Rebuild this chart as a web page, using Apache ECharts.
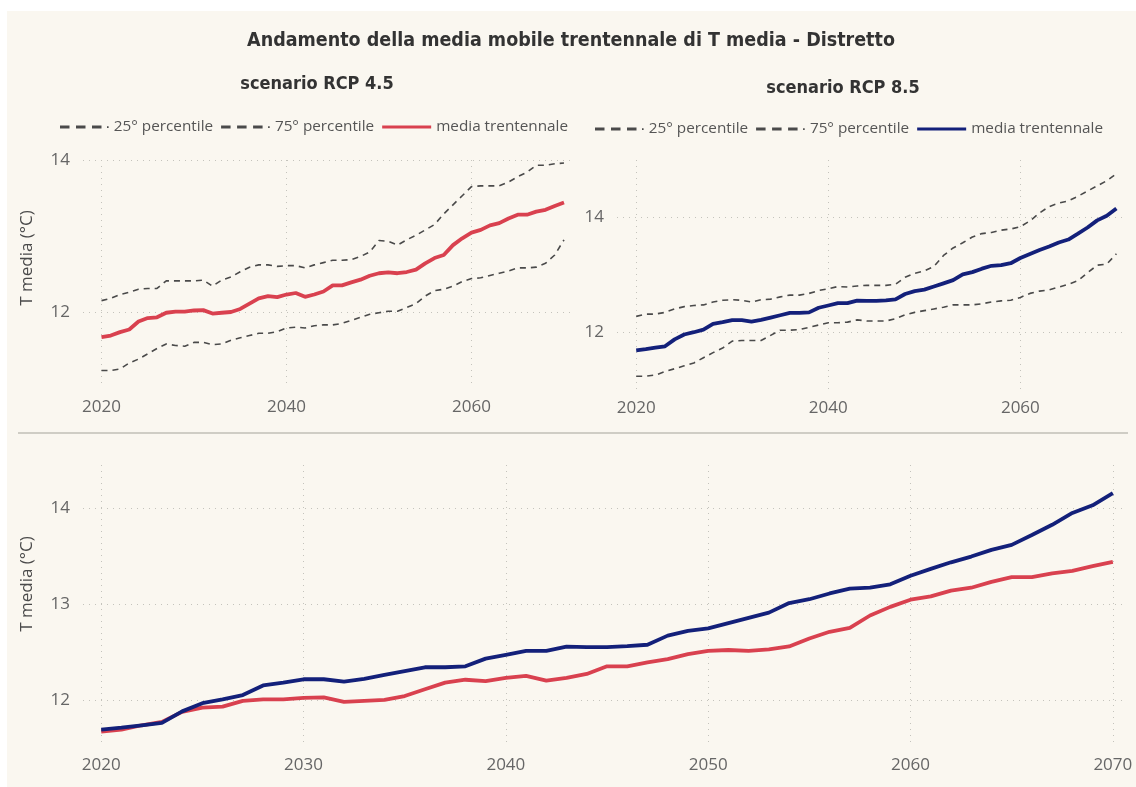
<!DOCTYPE html>
<html>
<head>
<meta charset="utf-8">
<script src="https://cdn.jsdelivr.net/npm/echarts@6/dist/echarts.min.js"></script>
<style>
  html, body { margin: 0; padding: 0; background: #ffffff; }
  #chart { width: 1136px; height: 787px; }
</style>
</head>
<body>
<div id="chart"></div>
<script>
// Years of the 30-year moving average
const years = [2020, 2021, 2022, 2023, 2024, 2025, 2026, 2027, 2028, 2029,
               2030, 2031, 2032, 2033, 2034, 2035, 2036, 2037, 2038, 2039,
               2040, 2041, 2042, 2043, 2044, 2045, 2046, 2047, 2048, 2049,
               2050, 2051, 2052, 2053, 2054, 2055, 2056, 2057, 2058, 2059,
               2060, 2061, 2062, 2063, 2064, 2065, 2066, 2067, 2068, 2069, 2070];

// Scenario RCP 4.5 (°C)
const rcp45Mean = [11.67, 11.69, 11.735, 11.77, 11.875, 11.92, 11.93, 11.99, 12.005, 12.005,
                   12.02, 12.025, 11.98, 11.99, 12.0, 12.04, 12.11, 12.18, 12.21, 12.195,
                   12.23, 12.25, 12.2, 12.23, 12.27, 12.35, 12.35, 12.39, 12.425, 12.477,
                   12.51, 12.52, 12.51, 12.526, 12.557, 12.64, 12.71, 12.75, 12.88, 12.97,
                   13.045, 13.08, 13.14, 13.17, 13.23, 13.28, 13.28, 13.32, 13.345, 13.395, 13.44];
const rcp45P25 = [11.23, 11.23, 11.25, 11.33, 11.38, 11.45, 11.52, 11.58, 11.56, 11.55,
                  11.6, 11.6, 11.57, 11.58, 11.63, 11.66, 11.69, 11.72, 11.72, 11.74,
                  11.79, 11.8, 11.79, 11.82, 11.83, 11.83, 11.85, 11.89, 11.93, 11.97,
                  11.99, 12.01, 12.01, 12.06, 12.11, 12.21, 12.28, 12.3, 12.34, 12.4,
                  12.44, 12.45, 12.48, 12.51, 12.54, 12.58, 12.58, 12.59, 12.64, 12.75, 12.95];
const rcp45P75 = [12.15, 12.18, 12.23, 12.26, 12.3, 12.31, 12.31, 12.41, 12.41, 12.41,
                  12.41, 12.42, 12.34, 12.42, 12.46, 12.53, 12.59, 12.62, 12.62, 12.6,
                  12.61, 12.61, 12.58, 12.62, 12.65, 12.68, 12.68, 12.69, 12.73, 12.79,
                  12.94, 12.93, 12.88, 12.95, 13.01, 13.08, 13.15, 13.29, 13.41, 13.53,
                  13.65, 13.66, 13.66, 13.66, 13.71, 13.78, 13.84, 13.93, 13.93, 13.95, 13.96];

// Scenario RCP 8.5 (°C)
const rcp85Mean = [11.69, 11.71, 11.735, 11.76, 11.88, 11.965, 12.005, 12.05, 12.15, 12.18,
                   12.215, 12.215, 12.19, 12.22, 12.26, 12.3, 12.34, 12.34, 12.35, 12.43,
                   12.47, 12.51, 12.51, 12.555, 12.55, 12.55, 12.56, 12.575, 12.67, 12.72,
                   12.745, 12.8, 12.855, 12.91, 13.01, 13.05, 13.11, 13.16, 13.17, 13.205,
                   13.295, 13.366, 13.435, 13.495, 13.565, 13.617, 13.72, 13.826, 13.95, 14.03, 14.157];
const rcp85P25 = [11.24, 11.24, 11.26, 11.32, 11.37, 11.42, 11.47, 11.56, 11.65, 11.73,
                  11.85, 11.86, 11.86, 11.86, 11.95, 12.04, 12.04, 12.05, 12.09, 12.13,
                  12.17, 12.17, 12.18, 12.22, 12.2, 12.2, 12.2, 12.24, 12.31, 12.35,
                  12.38, 12.41, 12.44, 12.48, 12.48, 12.48, 12.5, 12.53, 12.55, 12.56,
                  12.61, 12.68, 12.72, 12.74, 12.79, 12.84, 12.9, 13.04, 13.17, 13.19, 13.37];
const rcp85P75 = [12.28, 12.32, 12.32, 12.35, 12.41, 12.45, 12.47, 12.48, 12.53, 12.56,
                  12.57, 12.56, 12.53, 12.57, 12.58, 12.62, 12.65, 12.65, 12.68, 12.73,
                  12.76, 12.8, 12.79, 12.81, 12.82, 12.82, 12.82, 12.84, 12.96, 13.03,
                  13.07, 13.15, 13.34, 13.47, 13.56, 13.66, 13.72, 13.74, 13.78, 13.8,
                  13.84, 13.94, 14.08, 14.19, 14.25, 14.29, 14.37, 14.46, 14.55, 14.64, 14.76];

// Tick labels
const xTicksTop = [2020, 2040, 2060];
const xTicksBottom = [2020, 2030, 2040, 2050, 2060, 2070];
const yTicksTop = [12, 14];
const yTicksBottom = [12, 13, 14];

const RED = '#d9414f';
const NAVY = '#13207a';
const DASH = '#4a4a4a';
const GRID_COLOR = '#c4c3bc';
const LABEL_COLOR = '#666666';
const UI_FONT = '"Open Sans", "Noto Sans", sans-serif';
const TITLE_FONT = '"DejaVu Sans Condensed", "DejaVu Sans", sans-serif';

const pairs = arr => years.map((y, i) => [y, arr[i]]);

function xAxisDef(gridIndex, min, max, ticks, margin) {
  return {
    type: 'value', gridIndex, min, max,
    axisLine: { show: false },
    axisTick: { show: false, customValues: ticks },
    axisLabel: {
      customValues: ticks, margin,
      color: LABEL_COLOR, fontFamily: UI_FONT, fontSize: 17,
      formatter: v => String(v)
    },
    splitLine: { show: true, lineStyle: { color: GRID_COLOR, type: [1, 5], width: 1 } }
  };
}

// nameShift moves the rotated axis title upward along the axis
function yAxisDef(gridIndex, min, max, ticks, name, nameShift) {
  return {
    type: 'value', gridIndex, min, max,
    name: name || '', nameLocation: 'middle', nameGap: 47, nameRotate: 90,
    nameTextStyle: {
      color: '#4a4a4a', fontFamily: UI_FONT, fontSize: 17,
      padding: [0, 0, 0, 2 * (nameShift || 0)]
    },
    axisLine: { show: false },
    axisTick: { show: false, customValues: ticks },
    axisLabel: {
      customValues: ticks, margin: 13,
      color: LABEL_COLOR, fontFamily: UI_FONT, fontSize: 17,
      formatter: v => String(v)
    },
    splitLine: { show: true, lineStyle: { color: GRID_COLOR, type: [1, 5], width: 1 } }
  };
}

function dashed(name, data, xi) {
  return {
    name, type: 'line', xAxisIndex: xi, yAxisIndex: xi, data: pairs(data),
    showSymbol: false, symbol: 'none', z: 2,
    lineStyle: { color: DASH, width: 1.6, type: [6, 5] },
    itemStyle: { color: DASH }
  };
}

function solid(name, data, xi, color) {
  return {
    name, type: 'line', xAxisIndex: xi, yAxisIndex: xi, data: pairs(data),
    showSymbol: false, symbol: 'none', z: 3,
    lineStyle: { color, width: 3.8 },
    itemStyle: { color }
  };
}

// Legend icons: three dashes plus a small dot, or a solid bar
const dashIcon = 'path://M0 0H9.5V3H0Z M16 0H25.5V3H16Z M32 0H41.5V3H32Z M47 0.8H48.6V2.4H47Z';
const barIcon = 'path://M0 0H49V3H0Z';

function legendDef(left, top, meanColor) {
  return {
    left, top, orient: 'horizontal', padding: 0,
    itemWidth: 49, itemHeight: 3, itemGap: 8,
    selectedMode: false,
    textStyle: { color: '#555555', fontFamily: UI_FONT, fontSize: 15.3 },
    data: [
      { name: '25° percentile', icon: dashIcon, itemStyle: { color: DASH } },
      { name: '75° percentile', icon: dashIcon, itemStyle: { color: DASH } },
      { name: 'media trentennale', icon: barIcon, itemStyle: { color: meanColor } }
    ]
  };
}

const chart = echarts.init(document.getElementById('chart'), null, { renderer: 'canvas' });

chart.setOption({
  animation: false,
  graphic: {
    elements: [
      { type: 'rect', z: -10, silent: true,
        shape: { x: 7, y: 11, width: 1129, height: 776 },
        style: { fill: '#faf7f0' } },
      { type: 'rect', z: -5, silent: true,
        shape: { x: 18, y: 432, width: 1110, height: 2 },
        style: { fill: '#cfcdc5' } }
    ]
  },
  title: [
    { text: 'Andamento della media mobile trentennale di T media - Distretto',
      left: 571, top: 31, textAlign: 'center', padding: 0,
      textStyle: { fontFamily: TITLE_FONT, fontSize: 19.5, fontWeight: 'bold', color: '#333333' } },
    { text: 'scenario RCP 4.5',
      left: 317, top: 75, textAlign: 'center', padding: 0,
      textStyle: { fontFamily: TITLE_FONT, fontSize: 18, fontWeight: 'bold', color: '#333333' } },
    { text: 'scenario RCP 8.5',
      left: 843, top: 79, textAlign: 'center', padding: 0,
      textStyle: { fontFamily: TITLE_FONT, fontSize: 18, fontWeight: 'bold', color: '#333333' } }
  ],
  legend: [
    legendDef(60, 119.5, RED),
    legendDef(595, 121.5, NAVY)
  ],
  grid: [
    { left: 83, top: 160, width: 487, height: 228 },
    { left: 617, top: 160, width: 509, height: 230 },
    { left: 83, top: 465, width: 1044, height: 278 }
  ],
  xAxis: [
    xAxisDef(0, 2018, 2070.65, xTicksTop, 11),
    xAxisDef(1, 2018, 2071, xTicksTop, 10),
    xAxisDef(2, 2019.1, 2070.7, xTicksBottom, 14)
  ],
  yAxis: [
    yAxisDef(0, 11, 14, yTicksTop, 'T media (°C)', 16),
    yAxisDef(1, 11, 15, yTicksTop, '', 0),
    yAxisDef(2, 11.55, 14.45, yTicksBottom, 'T media (°C)', 20)
  ],
  series: [
    dashed('25° percentile', rcp45P25, 0),
    dashed('75° percentile', rcp45P75, 0),
    solid('media trentennale', rcp45Mean, 0, RED),
    dashed('25° percentile', rcp85P25, 1),
    dashed('75° percentile', rcp85P75, 1),
    solid('media trentennale', rcp85Mean, 1, NAVY),
    solid('RCP 4.5', rcp45Mean, 2, RED),
    solid('RCP 8.5', rcp85Mean, 2, NAVY)
  ]
});
</script>
</body>
</html>
